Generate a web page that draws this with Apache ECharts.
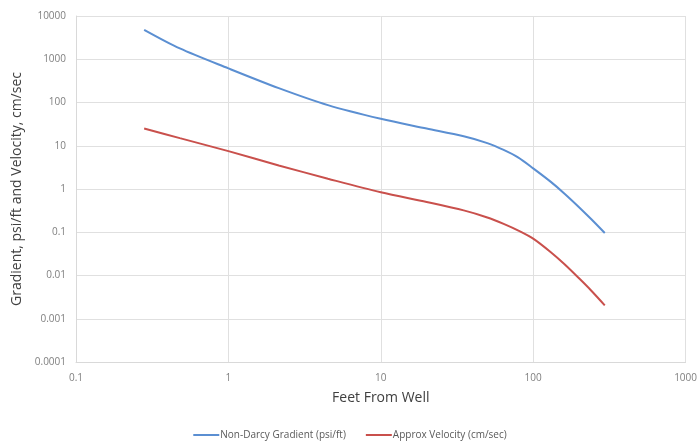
<!DOCTYPE html>
<html>
<head>
<meta charset="utf-8">
<script src="https://cdn.jsdelivr.net/npm/echarts@6/dist/echarts.min.js"></script>
<style>
  html, body { margin: 0; padding: 0; background: #fff; }
  #chart { width: 700px; height: 443px; }
</style>
</head>
<body>
<div id="chart"></div>
<script>
// Distance from well (ft)
const feet = [0.28, 0.48, 1, 2.14, 4.5, 10, 20, 35, 50, 64, 80, 100, 130, 160, 200, 240, 295];
// Non-Darcy gradient (psi/ft)
const gradient = [4800, 1780, 615, 215, 87, 42, 25, 16.5, 11.5, 8.0, 5.3, 3.0, 1.48, 0.79, 0.38, 0.202, 0.096];
// Approximate velocity (cm/sec)
const velocity = [25, 15, 7.5, 3.5, 1.73, 0.84, 0.5, 0.32, 0.22, 0.156, 0.109, 0.071, 0.0349, 0.0184, 0.0086, 0.0045, 0.00204];

const seriesNames = ['Non-Darcy Gradient (psi/ft)', 'Approx Velocity (cm/sec)'];
const xTicks = [0.1, 1, 10, 100, 1000];
const yTicks = [0.0001, 0.001, 0.01, 0.1, 1, 10, 100, 1000, 10000];

const font = 'Open Sans';
const pairs = ys => feet.map((x, i) => [x, ys[i]]);
const fmt = v => String(+Number(v).toPrecision(1));

const chart = echarts.init(document.getElementById('chart'));
chart.setOption({
  animation: false,
  backgroundColor: '#ffffff',
  grid: { left: 76, right: 9, top: 16, bottom: 81, containLabel: false },
  legend: {
    bottom: -2,
    left: 'center',
    itemWidth: 26,
    itemHeight: 2,
    itemGap: 20,
    icon: 'rect',
    textStyle: { fontFamily: font, fontSize: 10, color: '#595959', padding: [0, 0, 0, -4] },
    data: seriesNames
  },
  xAxis: {
    type: 'log',
    logBase: 10,
    min: xTicks[0],
    max: xTicks[xTicks.length - 1],
    name: 'Feet From Well',
    nameLocation: 'middle',
    nameGap: 29,
    nameTextStyle: { fontFamily: font, fontSize: 14, color: '#404040' },
    axisLine: { show: true, lineStyle: { color: '#d9d9d9', width: 1 } },
    axisTick: { show: false },
    axisLabel: { fontFamily: font, fontSize: 10, color: '#7f7f7f', margin: 11, formatter: fmt },
    splitLine: { show: true, lineStyle: { color: '#e0e0e0', width: 1 } }
  },
  yAxis: {
    type: 'log',
    logBase: 10,
    min: yTicks[0],
    max: yTicks[yTicks.length - 1],
    name: 'Gradient, psi/ft and Velocity, cm/sec',
    nameLocation: 'middle',
    nameGap: 52,
    nameTextStyle: { fontFamily: font, fontSize: 14, color: '#404040' },
    axisLine: { show: true, lineStyle: { color: '#d9d9d9', width: 1 } },
    axisTick: { show: false },
    axisLabel: { fontFamily: font, fontSize: 10, color: '#7f7f7f', margin: 10, formatter: fmt },
    splitLine: { show: true, lineStyle: { color: '#e0e0e0', width: 1 } }
  },
  series: [
    {
      name: seriesNames[0],
      type: 'line',
      data: pairs(gradient),
      smooth: 0.3,
      showSymbol: false,
      lineStyle: { color: '#5b8fd2', width: 2 },
      itemStyle: { color: '#5b8fd2' }
    },
    {
      name: seriesNames[1],
      type: 'line',
      data: pairs(velocity),
      smooth: 0.3,
      showSymbol: false,
      lineStyle: { color: '#c9504c', width: 2 },
      itemStyle: { color: '#c9504c' }
    }
  ]
});
</script>
</body>
</html>
